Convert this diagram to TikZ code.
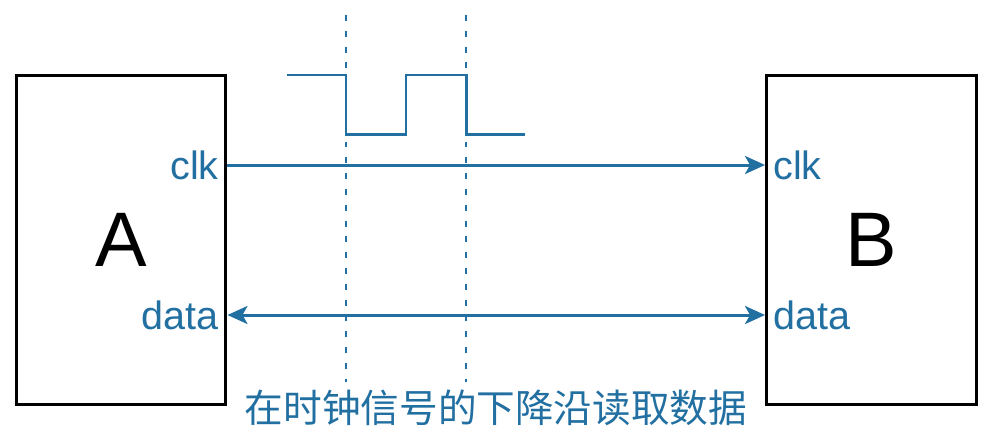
\documentclass[tikz,border=0pt]{standalone}
\usepackage{fontspec}
\setmainfont{Liberation Sans}
\newfontfamily\cjk{Noto Sans CJK SC}
\usepackage{tikz}
\usetikzlibrary{arrows.meta}
\definecolor{sigblue}{RGB}{34,111,161}

\begin{document}
\begin{tikzpicture}[x = 0.02cm, y = -0.02cm,
                    box/.style = {draw, line width = 1.7pt, minimum width = 4.2cm, minimum height = 6.6cm, inner sep = 0pt, font = \fontsize{44}{44}\selectfont},
                    port/.style = {text = sigblue, inner sep = 0pt, font = \fontsize{22.5}{22.5}\selectfont},
                    wire/.style = {draw = sigblue, line width = 1.7pt},
                    tip/.style = {-{Stealth[length = 0.4cm, width = 0.36cm, inset = 0.1cm]}},
                    tips/.style = {{Stealth[length = 0.4cm, width = 0.36cm, inset = 0.1cm]}-{Stealth[length = 0.4cm, width = 0.36cm, inset = 0.1cm]}},
                    edge/.style = {draw = sigblue, line width = 1.5pt, dash pattern = on 3.4pt off 5.6pt}]
  \useasboundingbox (0, 0) rectangle (990, 444);
  \node [box] (A) at (121, 240) {A};
  \node [box] (B) at (871.5, 240) {B};
  \node [port, anchor = east] (Aclk) at (219, 165) {clk};
  \node [port, anchor = east] (Adata) at (219, 315) {data};
  \node [port, anchor = west] (Bclk) at (773, 165) {clk};
  \node [port, anchor = west] (Bdata) at (773, 315) {data};
  \coordinate (E1top) at (346, 15);
  \coordinate (E1bot) at (346, 382);
  \coordinate (E2top) at (466, 15);
  \coordinate (E2bot) at (466, 382);
  \draw [edge] (E1top) -- (E1bot);
  \draw [edge] (E2top) -- (E2bot);
  \draw [wire] (287, 75) -- (346, 75) -- (346, 134) -- (406, 134) -- (406, 75) -- (466, 75) -- (466, 134) -- (525, 134);
  \draw [wire, tip] (A.east |- Aclk) -- (B.west |- Bclk);
  \draw [wire, tips] (A.east |- Adata) -- (B.west |- Bdata);
  \node [text = sigblue, inner sep = 0pt, font = \cjk\fontsize{22}{22}\selectfont] (note) at (496, 408) {在时钟信号的下降沿读取数据};
\end{tikzpicture}
\end{document}
